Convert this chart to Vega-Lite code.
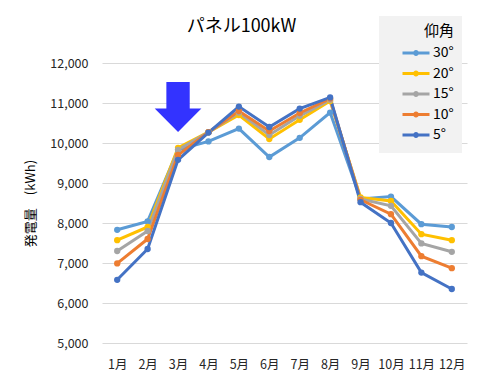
{
  "$schema": "https://vega.github.io/schema/vega-lite/v6.json",
  "autosize": "none",
  "width": 365,
  "height": 280,
  "padding": {"left": 102, "top": 63, "right": 16, "bottom": 49},
  "background": "white",
  "config": {
    "font": "Noto Sans CJK JP",
    "view": {"stroke": null}
  },
  "title": {
    "text": "パネル100kW",
    "fontSize": 18,
    "fontWeight": "normal",
    "color": "#000000",
    "anchor": "middle",
    "dx": -43,
    "offset": -20
  },
  "datasets": {
    "energy": [
      {"month": "1月", "angle": "30°", "kwh": 7830},
      {"month": "2月", "angle": "30°", "kwh": 8040},
      {"month": "3月", "angle": "30°", "kwh": 9830},
      {"month": "4月", "angle": "30°", "kwh": 10040},
      {"month": "5月", "angle": "30°", "kwh": 10360},
      {"month": "6月", "angle": "30°", "kwh": 9650},
      {"month": "7月", "angle": "30°", "kwh": 10130},
      {"month": "8月", "angle": "30°", "kwh": 10760},
      {"month": "9月", "angle": "30°", "kwh": 8600},
      {"month": "10月", "angle": "30°", "kwh": 8660},
      {"month": "11月", "angle": "30°", "kwh": 7970},
      {"month": "12月", "angle": "30°", "kwh": 7900},
      {"month": "1月", "angle": "20°", "kwh": 7570},
      {"month": "2月", "angle": "20°", "kwh": 7900},
      {"month": "3月", "angle": "20°", "kwh": 9880},
      {"month": "4月", "angle": "20°", "kwh": 10270},
      {"month": "5月", "angle": "20°", "kwh": 10700},
      {"month": "6月", "angle": "20°", "kwh": 10100},
      {"month": "7月", "angle": "20°", "kwh": 10580},
      {"month": "8月", "angle": "20°", "kwh": 11050},
      {"month": "9月", "angle": "20°", "kwh": 8640},
      {"month": "10月", "angle": "20°", "kwh": 8550},
      {"month": "11月", "angle": "20°", "kwh": 7720},
      {"month": "12月", "angle": "20°", "kwh": 7570},
      {"month": "1月", "angle": "15°", "kwh": 7300},
      {"month": "2月", "angle": "15°", "kwh": 7800},
      {"month": "3月", "angle": "15°", "kwh": 9830},
      {"month": "4月", "angle": "15°", "kwh": 10270},
      {"month": "5月", "angle": "15°", "kwh": 10760},
      {"month": "6月", "angle": "15°", "kwh": 10200},
      {"month": "7月", "angle": "15°", "kwh": 10680},
      {"month": "8月", "angle": "15°", "kwh": 11080},
      {"month": "9月", "angle": "15°", "kwh": 8600},
      {"month": "10月", "angle": "15°", "kwh": 8430},
      {"month": "11月", "angle": "15°", "kwh": 7490},
      {"month": "12月", "angle": "15°", "kwh": 7280},
      {"month": "1月", "angle": "10°", "kwh": 6990},
      {"month": "2月", "angle": "10°", "kwh": 7600},
      {"month": "3月", "angle": "10°", "kwh": 9700},
      {"month": "4月", "angle": "10°", "kwh": 10270},
      {"month": "5月", "angle": "10°", "kwh": 10800},
      {"month": "6月", "angle": "10°", "kwh": 10300},
      {"month": "7月", "angle": "10°", "kwh": 10750},
      {"month": "8月", "angle": "10°", "kwh": 11110},
      {"month": "9月", "angle": "10°", "kwh": 8580},
      {"month": "10月", "angle": "10°", "kwh": 8220},
      {"month": "11月", "angle": "10°", "kwh": 7170},
      {"month": "12月", "angle": "10°", "kwh": 6870},
      {"month": "1月", "angle": "5°", "kwh": 6580},
      {"month": "2月", "angle": "5°", "kwh": 7350},
      {"month": "3月", "angle": "5°", "kwh": 9580},
      {"month": "4月", "angle": "5°", "kwh": 10260},
      {"month": "5月", "angle": "5°", "kwh": 10910},
      {"month": "6月", "angle": "5°", "kwh": 10400},
      {"month": "7月", "angle": "5°", "kwh": 10860},
      {"month": "8月", "angle": "5°", "kwh": 11140},
      {"month": "9月", "angle": "5°", "kwh": 8520},
      {"month": "10月", "angle": "5°", "kwh": 8000},
      {"month": "11月", "angle": "5°", "kwh": 6760},
      {"month": "12月", "angle": "5°", "kwh": 6350}
    ],
    "arrow": [
      {"month": "3月", "kwh": 10900}
    ]
  },
  "encoding": {
    "x": {
      "field": "month",
      "type": "ordinal",
      "sort": ["1月","2月","3月","4月","5月","6月","7月","8月","9月","10月","11月","12月"],
      "scale": {"type": "point", "padding": 0.5},
      "axis": {
        "title": null,
        "domain": false,
        "ticks": false,
        "labelAngle": 0,
        "labelFontSize": 12.5,
        "labelColor": "#262626",
        "labelPadding": 15
      }
    },
    "y": {
      "field": "kwh",
      "type": "quantitative",
      "scale": {"domain": [5000, 12000], "nice": false, "zero": false},
      "axis": {
        "title": "発電量　(kWh)",
        "titleFontSize": 13,
        "titleFontWeight": "normal",
        "titleColor": "#000000",
        "titlePadding": 12,
        "values": [5000, 6000, 7000, 8000, 9000, 10000, 11000, 12000],
        "format": ",.0f",
        "domain": false,
        "ticks": false,
        "labelFontSize": 12.5,
        "labelColor": "#262626",
        "labelPadding": 14,
        "gridColor": "#D9D9D9",
        "gridWidth": 1
      }
    }
  },
  "layer": [
    {
      "data": {"name": "energy"},
      "mark": {"type": "line", "strokeWidth": 3},
      "encoding": {
        "color": {
          "field": "angle",
          "type": "nominal",
          "scale": {
            "domain": ["30°", "20°", "15°", "10°", "5°"],
            "range": ["#5B9BD5", "#FFC000", "#A5A5A5", "#ED7D31", "#4472C4"]
          },
          "legend": {
            "title": "仰角",
            "orient": "none",
            "legendX": 277,
            "legendY": -47,
            "fillColor": "#F2F2F2",
            "padding": 8,
            "titleFontSize": 15,
            "titleFontWeight": "normal",
            "titleColor": "#000000",
            "titleAnchor": "end",
            "titlePadding": 4,
            "symbolType": "M-1,0L1,0M0.11,0A0.11,0.11 0 1,1 -0.11,0A0.11,0.11 0 1,1 0.11,0",
            "symbolSize": 729,
            "symbolStrokeWidth": 3,
            "symbolOffset": 14,
            "labelFontSize": 14,
            "labelColor": "#000000",
            "labelOffset": 2,
            "clipHeight": 20,
            "rowPadding": 0.5
          }
        }
      }
    },
    {
      "data": {"name": "energy"},
      "mark": {"type": "point", "filled": true, "size": 40, "opacity": 1},
      "encoding": {
        "color": {"field": "angle", "type": "nominal", "legend": null}
      }
    },
    {
      "data": {"name": "arrow"},
      "mark": {
        "type": "point",
        "filled": true,
        "opacity": 1,
        "color": "#3333FF",
        "size": 2180,
        "shape": "M-0.5,-1.07L0.5,-1.07L0.5,0.06L1,0.06L0,1.07L-1,0.06L-0.5,0.06Z"
      }
    }
  ]
}
